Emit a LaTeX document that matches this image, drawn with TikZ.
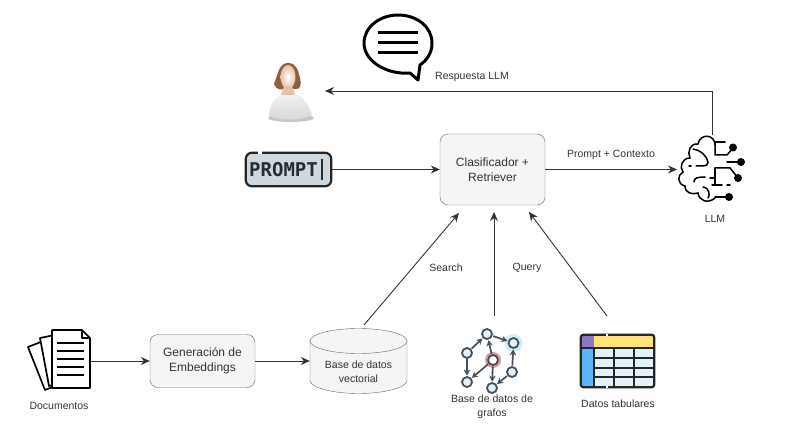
\documentclass[tikz,border=0pt]{standalone}
\usepackage{fontspec}
\setmainfont{Liberation Sans}
\newfontfamily\promptfont{DejaVu Sans Mono}
\usetikzlibrary{arrows.meta}
\definecolor{linegray}{HTML}{333333}
\definecolor{boxfill}{HTML}{F5F5F5}
\definecolor{boxline}{HTML}{666666}
\definecolor{iconink}{HTML}{465059}
\definecolor{tablecell}{HTML}{E3F1FB}
\definecolor{promptfill}{HTML}{CFD8DF}
\definecolor{hairbrown}{HTML}{8F5F3C}
\definecolor{skintone}{HTML}{E3C2AA}
\definecolor{tableyellow}{HTML}{FFE27A}
\definecolor{tablepurple}{HTML}{8C79C4}
\definecolor{tableblue}{HTML}{5CB4FF}
\tikzset{
  procbox/.style={draw=boxline,fill=boxfill,rounded corners=8pt,align=center,text=linegray,font=\fontsize{12}{15}\selectfont,inner sep=0pt},
  conn/.style={draw=linegray,line width=.9pt,-{Stealth[length=9pt,width=8pt]}},
  lbl/.style={text=linegray,font=\fontsize{10.5}{14}\selectfont,align=center,inner sep=0pt},
  iconbox/.style={inner sep=0pt,minimum width=#1},
  ink/.style={line width=1.7pt,black,line cap=round,line join=round},
  gnode/.style={circle,draw=iconink,fill=tablecell,line width=1.8pt,minimum size=10pt,inner sep=0pt},
  gedge/.style={draw=iconink,line width=1.7pt,-{Stealth[length=6pt,width=6.5pt]},shorten >=.5pt,shorten <=.5pt},
}
\begin{document}
\begin{tikzpicture}[x=1pt,y=-1pt]
\useasboundingbox (0,0) rectangle (791,430);
\node[procbox,minimum width=105pt,minimum height=71pt] (retriever) at (492.5,169.5) {Clasificador +\\Retriever};
\node[procbox,minimum width=105pt,minimum height=53pt] (embed) at (202.5,361) {Generación de\\Embeddings};
\node[iconbox=97pt,minimum height=65pt] (vectordb) at (358.5,361) {};
\node[iconbox=85pt,minimum height=33pt] (prompt) at (288.5,169.5) {};
\node[iconbox=44pt,minimum height=60pt] (user) at (290,91) {};
\node[iconbox=76pt,minimum height=68pt] (bubble) at (398,47) {};
\node[iconbox=70pt,minimum height=70pt] (brain) at (712,170) {};
\node[iconbox=62pt,minimum height=62pt] (docs) at (60,360) {};
\node[iconbox=70pt,minimum height=66pt] (graphdb) at (492,357) {};
\node[iconbox=73pt,minimum height=52pt] (tabular) at (617.5,361) {};
\coordinate (brainTop) at (712,135);
\coordinate (userIn) at (325,91);
\coordinate (brainIn) at (677,169.5);
\coordinate (searchOut) at (364,325);
\coordinate (searchIn) at (459,213);
\coordinate (queryOut) at (494,316);
\coordinate (queryIn) at (494,212);
\coordinate (tableOut) at (607,316);
\coordinate (tableIn) at (529,212);
\coordinate (docsOut) at (91,361);
\draw[draw=boxline,fill=boxfill] (310,341) -- (310,380.5) .. controls (310,387.5) and (332,393.5) .. (358.5,393.5) .. controls (385,393.5) and (407,387.5) .. (407,380.5) -- (407,341) .. controls (407,334) and (385,328.5) .. (358.5,328.5) .. controls (332,328.5) and (310,334) .. (310,341) -- cycle;
\draw[draw=boxline] (310,341) .. controls (310,348) and (332,353.5) .. (358.5,353.5) .. controls (385,353.5) and (407,348) .. (407,341);
\node[lbl] at (358.5,372) {Base de datos\\vectorial};
\draw[conn] (brainTop) -- (712,91) -- (userIn);
\draw[conn] (prompt.east) -- (retriever.west);
\draw[conn] (retriever.east) -- (brainIn);
\draw[conn] (docsOut) -- (embed.west);
\draw[conn] (embed.east) -- (vectordb.west);
\draw[conn] (searchOut) -- (searchIn);
\draw[conn] (queryOut) -- (queryIn);
\draw[conn] (tableOut) -- (tableIn);
\node[lbl] at (472,77) {Respuesta LLM};
\node[lbl] at (611,155) {Prompt + Contexto};
\node[lbl] at (446,268) {Search};
\node[lbl] at (527,268) {Query};
\node[lbl] at (715,219) {LLM};
\node[lbl] at (59,406) {Documentos};
\node[lbl] at (492,407) {Base de datos de\\grafos};
\node[lbl] at (618,404) {Datos tabulares};
\draw[line width=3pt,black,line join=round,fill=white] (410,73) .. controls (388,75) and (364,62) .. (364,43) .. controls (364,27) and (380,15) .. (398,15) .. controls (417,15) and (432,27) .. (432,43) .. controls (432,53) and (427,60) .. (420,65) -- (418,80) -- cycle;
\foreach \y in {33,43,53} \draw[line width=3pt,black] (378,\y) -- (418,\y);
\fill[black!40,opacity=.55] (291,118) ellipse (23pt and 4pt);
\shade[top color=gray!12,bottom color=blue!8!gray!30] (269,116) .. controls (270,106) and (272,99) .. (282,95) -- (298,95) .. controls (304,97) and (309,106) .. (312,115) .. controls (300,121) and (280,121) .. (269,116) -- cycle;
\fill[hairbrown] (288,63) .. controls (279,63) and (278,74) .. (274,84) .. controls (276,90) and (282,91) .. (285,88) -- (296,89) .. controls (300,90) and (302,84) .. (300,78) .. controls (298,70) and (296,63) .. (288,63) -- cycle;
\shade[inner color=white,outer color=skintone] (288,77) ellipse (7.5pt and 12pt);
\fill[skintone] (284,86) -- (292,86) -- (295,95) -- (281,95) -- cycle;
\draw[line width=2.2pt,black!85,rounded corners=6pt,fill=promptfill] (prompt.south west) rectangle (prompt.north east);
\draw[white,line width=3pt] (258,153) -- (262,153);
\node[inner sep=0pt,text=iconink!55!black] at (283.5,169.5) {\promptfont\bfseries\fontsize{19}{19}\selectfont PROMPT};
\draw[line width=2.2pt,iconink!55!black] (322,159) -- (322,180);
\begin{scope}[line width=1.5pt,black,line cap=round]
\draw (715,145) .. controls (715,134) and (700,133) .. (698,144) .. controls (690,143) and (687,152) .. (690,158) .. controls (682,158) and (679,167) .. (683,172) .. controls (677,175) and (677,184) .. (685,186) .. controls (685,193) and (692,195) .. (698,193) .. controls (699,201) and (708,204) .. (715,198);
\draw (693,149) .. controls (700,150) and (707,155) .. (708,163);
\draw (696,166) -- (703,166) .. controls (706,166) and (708,165) .. (708,162);
\draw (689,166) -- (691,166);
\draw (694,182) .. controls (694,178) and (697,177) .. (705,177);
\draw (710,178) -- (714,178);
\draw (703,187) .. controls (710,188) and (710,196) .. (708,198);
\draw (715,142) -- (725,142);
\draw (715,142) -- (715,155) -- (727,155) -- (733,148);
\draw (727,162) -- (741,162);
\draw (715,168) -- (730,168) -- (738,178);
\draw (715,168) -- (715,185);
\draw (712,185) -- (722,185);
\draw (727,185) -- (730,185);
\draw (715,197) -- (729,197);
\fill (733,147.5) circle (4pt) (741,162) circle (4pt) (738,178) circle (4pt) (729,197) circle (4pt);
\end{scope}
\draw[ink,fill=white] (28,347) -- (66,332) -- (83,375) -- (45,390) -- cycle;
\draw[ink,fill=white] (40,338) -- (80,330) -- (88,375) -- (49,386) -- cycle;
\draw[ink,fill=white] (52,330) -- (82,330) -- (90,338) -- (90,388) -- (52,388) -- cycle;
\draw[ink] (82,330) -- (82,338) -- (90,338);
\foreach \y in {343,351,359,367,375} \draw[line width=1.5pt,black] (57,\y) -- (84,\y);
\foreach \n/\x/\y in {g1/487/334,g2/513.5/343,g3/467/353,g4/493/360,g5/512/372,g6/467/382,g7/492/388} \node[gnode] (\n) at (\x,\y) {};
\fill[red!65!black!40] (g4) circle (8pt);
\fill[cyan!20] (g2) circle (9pt);
\node[gnode,fill=white] at (g4) {};
\node[gnode,fill=tablecell] at (g2) {};
\draw[gedge] (g1) -- (g2);
\draw[gedge] (g3) -- (g1);
\draw[gedge] (g3) -- (g6);
\draw[gedge] (g4) -- (g1);
\draw[gedge] (g4) -- (g6);
\draw[gedge] (g4) -- (g7);
\draw[gedge] (g5) -- (g2);
\draw[gedge] (g5) -- (g7);
\fill[tablecell] (tabular.south west) rectangle (tabular.north east);
\fill[tableyellow] (tabular.north west) rectangle (654,348);
\fill[tablepurple] (tabular.north west) rectangle (594,348);
\fill[tableblue] (581,348) rectangle (594,387);
\foreach \y in {358,368,377} \draw[line width=1.7pt,black!85] (594,\y) -- (654,\y);
\foreach \x in {594,614,634} \draw[line width=1.7pt,black!85] (\x,348) -- (\x,387);
\draw[line width=1.7pt,black!85] (581,348) -- (654,348);
\draw[line width=2.2pt,black!85,rounded corners=2.5pt] (tabular.south west) rectangle (tabular.north east);
\draw[white,line width=2.6pt] (606,335) -- (608,335) (606,387) -- (608,387);
\end{tikzpicture}
\end{document}
